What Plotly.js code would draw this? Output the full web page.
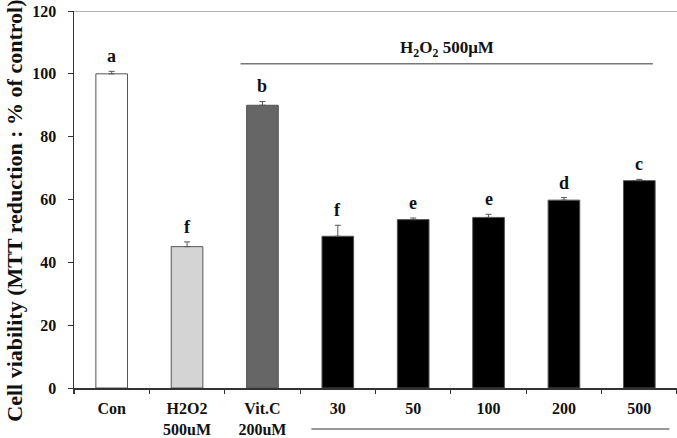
<!DOCTYPE html>
<html>
<head>
<meta charset="utf-8">
<script src="https://cdn.plot.ly/plotly-3.0.1.min.js"></script>
<style>
  html, body { margin: 0; padding: 0; background: #fff; }
  #chart { width: 677px; height: 438px; }
</style>
</head>
<body>
<div id="chart"></div>
<script>
// Treatment groups and their tick labels
const categories = ["Con", "H2O2<br>500uM", "Vit.C<br>200uM", "30", "50", "100", "200", "500"];
// Mean cell viability (% of control) and upper error (SD)
const viability = [100, 45, 90, 48.3, 53.6, 54.3, 59.8, 66.0];
const errorUp = [0.8, 1.5, 1.2, 3.5, 0.5, 1.0, 0.8, 0.4];
// Significance letters above each bar
const sigLetters = ["a", "f", "b", "f", "e", "e", "d", "c"];
// Bar fill colours per group
const barColors = ["#ffffff", "#d4d4d4", "#666666", "#000000", "#000000", "#000000", "#000000", "#000000"];
const yTicks = [0, 20, 40, 60, 80, 100, 120];

const serif = "Liberation Serif, Times New Roman, serif";

const trace = {
  type: "bar",
  x: categories,
  y: viability,
  width: 0.42,
  marker: {
    color: barColors,
    line: { color: "#555555", width: 1 }
  },
  error_y: {
    type: "data",
    symmetric: false,
    array: errorUp,
    arrayminus: errorUp.map(() => 0),
    color: "#555555",
    thickness: 1,
    width: 3
  },
  hoverinfo: "none"
};

// letters sit just above each error bar (x given as category index)
const letterAnnotations = categories.map((c, i) => ({
  x: i,
  y: viability[i] + errorUp[i],
  xref: "x",
  yref: "y",
  text: sigLetters[i],
  showarrow: false,
  yanchor: "bottom",
  yshift: 3,
  font: { family: serif, size: 18, color: "#111", weight: "bold" }
}));

const layout = {
  width: 677,
  height: 438,
  margin: { l: 74, r: 0, t: 10.5, b: 50 },
  paper_bgcolor: "#ffffff",
  plot_bgcolor: "#ffffff",
  showlegend: false,
  xaxis: {
    type: "category",
    range: [-0.5, 7.5],
    showline: true,
    linecolor: "#333333",
    linewidth: 1.5,
    ticks: "outside",
    tickson: "boundaries",
    ticklen: 4,
    tickwidth: 1.2,
    tickcolor: "#333333",
    ticklabelstandoff: 5,
    tickfont: { family: serif, size: 16, color: "#111", weight: "bold" },
    showgrid: false,
    zeroline: false,
    fixedrange: true
  },
  yaxis: {
    range: [0, 120],
    tickvals: yTicks,
    ticktext: yTicks.map(String),
    showline: true,
    linecolor: "#333333",
    linewidth: 1.5,
    ticks: "outside",
    ticklen: 5,
    tickcolor: "#333333",
    ticklabelstandoff: 8,
    tickfont: { family: serif, size: 16, color: "#111", weight: "bold" },
    showgrid: false,
    zeroline: false,
    fixedrange: true
  },
  shapes: [
    // frame line at the top of the value range
    { type: "line", xref: "paper", yref: "y", x0: 0, x1: 1, y0: 120, y1: 120,
      line: { color: "#999999", width: 1.5 } },
    // bracket over the H2O2-treated groups
    { type: "line", xref: "x", yref: "y", x0: 1.71, x1: 7.18, y0: 103.2, y1: 103.2,
      line: { color: "#777777", width: 1.5 } },
    // underline beneath the concentration labels
    { type: "line", xref: "x", yref: "paper", x0: 2.65, x1: 7.4, y0: -0.109, y1: -0.109,
      line: { color: "#777777", width: 1.5 } }
  ],
  annotations: letterAnnotations.concat([
    {
      x: 4.45, y: 108, xref: "x", yref: "y",
      text: "H<sub>2</sub>O<sub>2</sub> 500μM",
      showarrow: false,
      font: { family: serif, size: 17, color: "#111", weight: "bold" }
    },
    {
      x: -0.098, y: 0.47, xref: "paper", yref: "paper",
      xanchor: "center", yanchor: "middle",
      text: "Cell viability (MTT reduction : % of control)",
      textangle: -90,
      showarrow: false,
      font: { family: serif, size: 22, color: "#111", weight: "bold" }
    }
  ])
};

Plotly.newPlot("chart", [trace], layout, { displayModeBar: false, staticPlot: true });
</script>
</body>
</html>
